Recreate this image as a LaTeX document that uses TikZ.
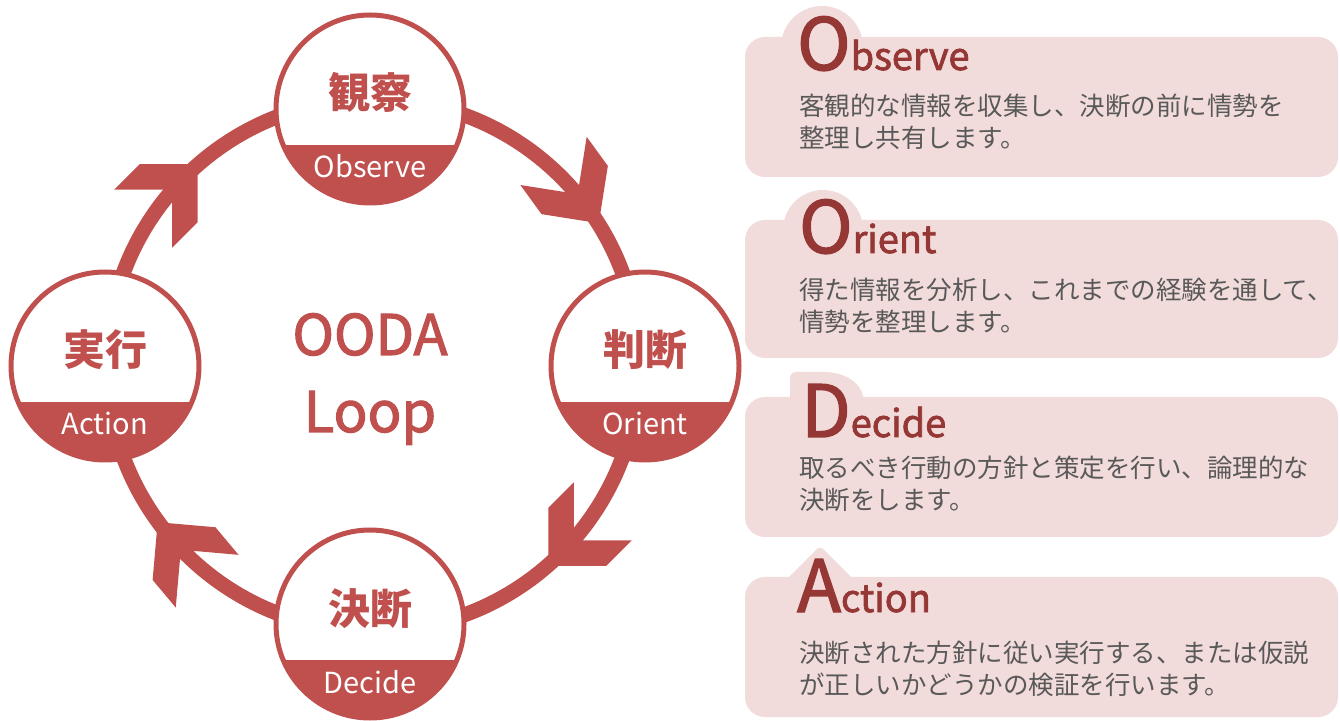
\documentclass[tikz,border=0pt]{standalone}
\usepackage{fontspec}
\setmainfont{Noto Sans CJK JP}
\newfontfamily\medfont{Noto Sans CJK JP}[FakeBold=2]
\usepackage{tikz}
\usetikzlibrary{calc, positioning}
\definecolor{loopred}{HTML}{C0504D}
\definecolor{boxpink}{HTML}{F2DCDB}
\definecolor{headred}{HTML}{953735}
\definecolor{bodygray}{HTML}{595959}
\newcommand{\fs}[1]{\fontsize{#1}{#1}\selectfont}
\newcommand{\headword}[2]{{\fs{72}#1}{\fs{38}#2}}

\begin{document}
\begin{tikzpicture}[x=1pt, y=1pt,
  stage/.style={circle, draw=loopred, line width=5pt, fill=white, minimum size=188pt, inner sep=0pt,
    path picture={\fill[loopred] (path picture bounding box.south west) rectangle ([yshift=58pt]path picture bounding box.south east);}},
  jplab/.style={text=loopred, font=\fs{42}\bfseries, anchor=base, inner sep=0pt},
  enlab/.style={text=white, font=\fs{29}, anchor=base, inner sep=0pt},
  infobox/.style={fill=boxpink, rounded corners=20pt},
  head/.style={text=headred, font=\medfont, anchor=base west, inner sep=0pt},
  body/.style={text=bodygray, font=\fs{25.5}, anchor=base west, inner sep=0pt},
  chevron/.pic={\fill[loopred] (18,0) -- (-23,41) -- (-59,41) -- (-18,0) -- (-59,-41) -- (-23,-41) -- cycle;}]
\useasboundingbox (0,0) rectangle (1340,720);

% loop
\coordinate (c) at (373,355);
\draw[loopred, line width=15pt] (c) circle[radius=266];
\foreach \a/\r in {36/-54, 135/45, -45/-135, -140/130}
  \path (c) ++(\a:266) pic[rotate=\r]{chevron};

\foreach \n/\x/\y/\j/\e in {obs/370/611/観察/Observe, ori/645/354/判断/Orient, dec/370/96/決断/Decide, act/105/354/実行/Action}{
  \node[stage] (\n) at (\x,\y) {};
  \node[jplab] (\n-jp) at (\n.center) {\j};
  \node[enlab] (\n-en) at ([yshift=-69pt]\n.center) {\e};
}
\node[text=loopred, font=\fs{56}\medfont, anchor=base] (ooda) at (370,365) {OODA};
\node[text=loopred, font=\fs{56}\medfont, anchor=base] (loop) at (370,288) {Loop};

% boxes
\fill[infobox] (745,543) rectangle (1338,683);
\fill[boxpink] (822,673) circle[radius=41];
\fill[infobox] (745,362) rectangle (1338,500);
\fill[boxpink] (823,490) circle[radius=40];
\fill[infobox] (745,183) rectangle (1338,323);
\fill[boxpink, rounded corners=6pt] (790,318) -- (790,348) -- (818,348) .. controls (846,348) and (861,336) .. (864,318) -- cycle;
\fill[infobox] (745,3) rectangle (1338,143);
\fill[boxpink, rounded corners=4pt] (784,138) -- (820,174) -- (856,138) -- cycle;

\node[head] (obs-h) at (797,650) {\headword{O}{bserve}};
\node[head] (ori-h) at (799,467) {\headword{O}{rient}};
\node[head] (dec-h) at (801,283) {\headword{D}{ecide}};
\node[head] (act-h) at (797,108) {\headword{A}{ction}};

\node[body] (obs-a) at (799,604) {客観的な情報を収集し、決断の前に情勢を};
\node[body] (obs-b) at ([yshift=-32pt]obs-a.base west) {整理し共有します。};
\node[body] (ori-a) at (799,420) {得た情報を分析し、これまでの経験を通して、};
\node[body] (ori-b) at ([yshift=-32pt]ori-a.base west) {情勢を整理します。};
\node[body] (dec-a) at (799,242) {取るべき行動の方針と策定を行い、論理的な};
\node[body] (dec-b) at ([yshift=-32pt]dec-a.base west) {決断をします。};
\node[body] (act-a) at (799,58) {決断された方針に従い実行する、または仮説};
\node[body] (act-b) at ([yshift=-32pt]act-a.base west) {が正しいかどうかの検証を行います。};
\end{tikzpicture}
\end{document}
